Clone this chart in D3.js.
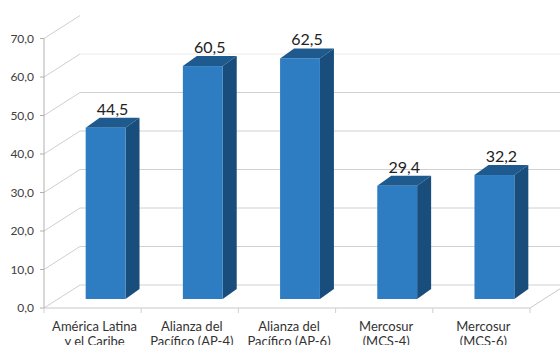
<!DOCTYPE html>
<html>
<head>
<meta charset="utf-8">
<script src="https://cdn.jsdelivr.net/npm/d3@7"></script>
<style>
  body { margin: 0; background: #fff; }
  svg { display: block; font-family: Lato, "Open Sans", sans-serif; }
</style>
</head>
<body>
<div id="chart"></div>
<script>
// data
var categories = ["América Latina y el Caribe", "Alianza del Pacífico (AP-4)", "Alianza del Pacífico (AP-6)", "Mercosur (MCS-4)", "Mercosur (MCS-6)"];
var categoryLines = [["América Latina", "y el Caribe"], ["Alianza del", "Pacífico (AP-4)"], ["Alianza del", "Pacífico (AP-6)"], ["Mercosur", "(MCS-4)"], ["Mercosur", "(MCS-6)"]];
var values = [44.5, 60.5, 62.5, 29.4, 32.2];
var valueLabels = ["44,5", "60,5", "62,5", "29,4", "32,2"];
var yTicks = [0, 10, 20, 30, 40, 50, 60, 70];
var yTickLabels = ["0,0", "10,0", "20,0", "30,0", "40,0", "50,0", "60,0", "70,0"];

var width = 560
var height = 345

var svg = d3.select("#chart")
    .append("svg")
    .attr("width", width)
    .attr("height", height)

// front plane scales
var x = d3.scaleBand()
    .domain(categories)
    .range([44, 530])

var y = d3.scaleLinear()
    .domain([0, 70])
    .range([308, 38.5])

// depth offsets (oblique 3d look)
var wallDx = 36, wallDy = -23   // back wall
var barDx = 13, barDy = -9      // bar front face
var depDx = 14, depDy = -10     // bar depth

var grid = svg.append("g")

// walls: gridlines run diagonal on the left wall then across the back wall
yTicks.forEach((t, i) => {
    var y0 = y(t)
    grid.append("line")
        .attr("x1", 44).attr("y1", y0)
        .attr("x2", 44 + wallDx).attr("y2", y0 + wallDy)
        .attr("stroke", "#cfcfcf")
    if (t < 70) {
        grid.append("line")
            .attr("x1", 44 + wallDx).attr("y1", y0 + wallDy)
            .attr("x2", width + 10).attr("y2", y0 + wallDy)
            .attr("stroke", t == 60 ? "#ececec" : "#d0d0d0")
    }
    // axis tick
    grid.append("line")
        .attr("x1", 40).attr("y1", y0)
        .attr("x2", 44).attr("y2", y0)
        .attr("stroke", "#b0b0b0")
    grid.append("text")
        .attr("x", 34)
        .attr("y", y0)
        .attr("dy", "0.35em")
        .attr("text-anchor", "end")
        .attr("font-size", 12)
        .attr("fill", "#404040")
        .text(yTickLabels[i])
})

// front axis + floor
grid.append("line")
    .attr("x1", 44).attr("y1", y(0))
    .attr("x2", 44).attr("y2", y(70))
    .attr("stroke", "#b0b0b0")
grid.append("line")
    .attr("x1", 44).attr("y1", y(0))
    .attr("x2", 530).attr("y2", y(0))
    .attr("stroke", "#c8c8c8")
grid.append("line")
    .attr("x1", 530).attr("y1", y(0))
    .attr("x2", 530 + wallDx).attr("y2", y(0) + wallDy)
    .attr("stroke", "#c8c8c8")

// category tick marks on the floor edge
x.domain().concat([null]).forEach((c, i) => {
    var xx = 44 + i * x.bandwidth()
    grid.append("line")
        .attr("x1", xx).attr("y1", y(0))
        .attr("x2", xx).attr("y2", y(0) + 5)
        .attr("stroke", "#d0d0d0")
})

// bars
var barW = x.bandwidth() * 0.41
var bars = svg.append("g")
    .selectAll("g")
    .data(values)
    .enter()
    .append("g")

var fx = (d, i) => x(categories[i]) + (x.bandwidth() - barW) / 2 + barDx

bars.append("path")  // top
    .attr("d", (d, i) => {
        var l = fx(d, i), r = l + barW, t = y(d) + barDy
        return `M${l},${t}L${r},${t}L${r + depDx},${t + depDy}L${l + depDx},${t + depDy}Z`
    })
    .attr("fill", "#1f5a8f")

bars.append("path")  // side
    .attr("d", (d, i) => {
        var r = fx(d, i) + barW, t = y(d) + barDy, b = y(0) + barDy
        return `M${r},${t}L${r + depDx},${t + depDy}L${r + depDx},${b + depDy}L${r},${b}Z`
    })
    .attr("fill", "#184d7c")

bars.append("rect")  // front
    .attr("x", (d, i) => fx(d, i))
    .attr("y", (d) => y(d) + barDy)
    .attr("width", barW)
    .attr("height", (d) => y(0) - y(d))
    .attr("fill", "#2e7dc2")

// value labels
bars.append("text")
    .attr("x", (d, i) => fx(d, i) + barW / 2 + 7)
    .attr("y", (d) => y(d) - 22)
    .attr("text-anchor", "middle")
    .attr("font-size", 16)
    .attr("fill", "#222")
    .text((d, i) => valueLabels[i])

// category labels
var cat = svg.append("g")
    .selectAll("text")
    .data(categories)
    .enter()
    .append("text")
    .attr("text-anchor", "middle")
    .attr("font-size", 13)
    .attr("fill", "#333")

cat.selectAll("tspan")
    .data((d, i) => categoryLines[i].map(s => ({ s: s, c: d })))
    .enter()
    .append("tspan")
    .attr("x", (d) => x(d.c) + x.bandwidth() / 2 + 2)
    .attr("y", (d, j) => 331 + j * 15)
    .text((d) => d.s)
</script>
</body>
</html>
